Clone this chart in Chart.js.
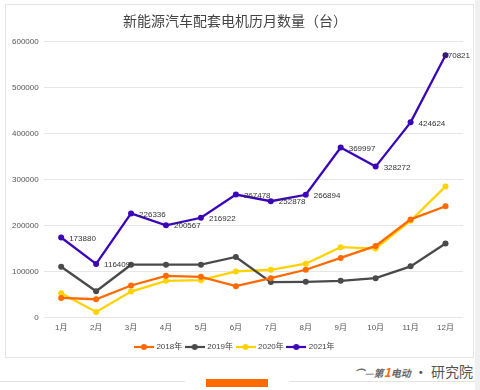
<!DOCTYPE html>
<html>
<head>
<meta charset="utf-8">
<script src="https://cdn.jsdelivr.net/npm/chart.js@4/dist/chart.umd.min.js"></script>
<style>
  html, body { margin: 0; padding: 0; background: #ffffff; }
  body { width: 480px; height: 390px; position: relative; overflow: hidden; font-family: "Noto Sans CJK SC", "Noto Sans", sans-serif; }
  #card { position: absolute; left: 5px; top: 4px; width: 467px; height: 352px; border: 1px solid #e4e4e4; background: #fff; }
  #strip { position: absolute; left: 475px; top: 0; width: 5px; height: 390px; background: #f0f0f0; }
  #wrap { position: absolute; left: 0; top: 0; width: 480px; height: 390px; }
  #logo { position: absolute; right: 7px; top: 362px; font-size: 14px; line-height: 18px; color: #555; white-space: nowrap; }
  #logo .b { font-size: 10px; font-style: italic; font-weight: bold; color: #666; }
  #logo .one { color: #ff6a00; font-size: 12px; }
  #lineL { position: absolute; left: 0; top: 381px; width: 185px; height: 1px; background: #e2e2e2; }
  #lineR { position: absolute; left: 289px; top: 381px; width: 186px; height: 1px; background: #e2e2e2; }
  #bar { position: absolute; left: 206px; top: 379px; width: 62px; height: 8px; background: #ff6a00; }
</style>
</head>
<body>
<div id="strip"></div>
<div id="card"></div>
<div id="lineL"></div><div id="lineR"></div><div id="bar"></div>
<div id="logo"><span class="b">⌒—第<span class="one">1</span>电动</span> · 研究院</div>
<div id="wrap"><canvas id="c" width="480" height="390"></canvas></div>
<script>
const months = ['1月','2月','3月','4月','5月','6月','7月','8月','9月','10月','11月','12月'];
const seriesNames = ['2018年','2019年','2020年','2021年'];
const v2018 = [42300, 39500, 69500, 90600, 88400, 68000, 85500, 103700, 129400, 155700, 213400, 241900];
const v2019 = [110300, 57000, 114700, 114700, 114700, 131600, 76800, 77500, 79700, 85500, 111100, 160800];
const v2020 = [52600, 11700, 56300, 79700, 81100, 100100, 103700, 116900, 152800, 149800, 210500, 285100];
const v2021 = [173880, 116409, 226336, 200567, 216922, 267478, 252878, 266894, 369997, 328272, 424624, 570821];
const yTicks = [0, 100000, 200000, 300000, 400000, 500000, 600000];
const colors = ['#ff6a00', '#4a4a4a', '#ffd200', '#3a06b8'];

function legendIcon(color) {
  const cv = document.createElement('canvas');
  cv.width = 20; cv.height = 8;
  const g = cv.getContext('2d');
  g.strokeStyle = color; g.lineWidth = 2.2;
  g.beginPath(); g.moveTo(0, 4); g.lineTo(20, 4); g.stroke();
  g.fillStyle = color;
  g.beginPath(); g.arc(10, 4, 3, 0, Math.PI * 2); g.fill();
  return cv;
}
const icons = colors.map(legendIcon);

const valueLabels = {
  id: 'valueLabels',
  afterDatasetsDraw(chart) {
    const ctx = chart.ctx;
    const meta = chart.getDatasetMeta(3);
    const data = chart.data.datasets[3].data;
    ctx.save();
    ctx.font = '8px "Liberation Sans", Arial, sans-serif';
    ctx.fillStyle = '#333';
    ctx.textAlign = 'left';
    ctx.textBaseline = 'middle';
    meta.data.forEach((pt, i) => {
      const txt = String(data[i]);
      const w = ctx.measureText(txt).width;
      let x = pt.x + 8;
      if (x + w > 470) x = 470 - w;
      ctx.fillText(txt, x, pt.y + 1);
    });
    ctx.restore();
  }
};

const datasets = [v2018, v2019, v2020, v2021].map((d, i) => ({
  label: seriesNames[i],
  data: d,
  borderColor: colors[i],
  backgroundColor: colors[i],
  borderWidth: 2.3,
  pointRadius: 3,
  pointHoverRadius: 3,
  pointBackgroundColor: colors[i],
  pointBorderWidth: 0,
  tension: 0,
  fill: false,
  order: i === 3 ? 0 : 1
}));

new Chart(document.getElementById('c'), {
  type: 'line',
  data: { labels: months, datasets },
  options: {
    responsive: false,
    animation: false,
    devicePixelRatio: 1,
    layout: { padding: { left: 7, right: 17, top: 4, bottom: 29 } },
    plugins: {
      title: {
        display: true,
        text: '新能源汽车配套电机历月数量（台）',
        color: '#444',
        font: { size: 14, family: '"Noto Sans CJK SC", sans-serif', weight: 'normal' },
        padding: { top: 8, bottom: 13 }
      },
      legend: {
        position: 'bottom',
        labels: {
          usePointStyle: true,
          pointStyleWidth: 17,
          color: '#444',
          font: { size: 8, family: '"Liberation Sans", "Noto Sans CJK SC", sans-serif' },
          padding: 4,
          generateLabels(chart) {
            return chart.data.datasets.map((ds, i) => ({
              text: ds.label,
              fillStyle: colors[i],
              strokeStyle: colors[i],
              pointStyle: icons[i],
              datasetIndex: i,
              hidden: false,
              lineWidth: 0,
              fontColor: '#444'
            }));
          }
        }
      },
      tooltip: { enabled: false }
    },
    scales: {
      x: {
        offset: true,
        grid: { display: false, drawTicks: false },
        border: { display: false },
        ticks: { color: '#555', font: { size: 8, family: '"Liberation Sans", "Noto Sans CJK SC", sans-serif' }, padding: 6, maxRotation: 0 }
      },
      y: {
        min: 0, max: 600000,
        afterBuildTicks(scale) { scale.ticks = yTicks.map(v => ({ value: v })); },
        grid: { color: '#e6e6e6', lineWidth: 1, drawTicks: false },
        border: { display: false },
        ticks: { color: '#555', font: { size: 8, family: '"Liberation Sans", sans-serif' }, padding: 5, callback: v => String(v) }
      }
    }
  },
  plugins: [valueLabels]
});
</script>
</body>
</html>
